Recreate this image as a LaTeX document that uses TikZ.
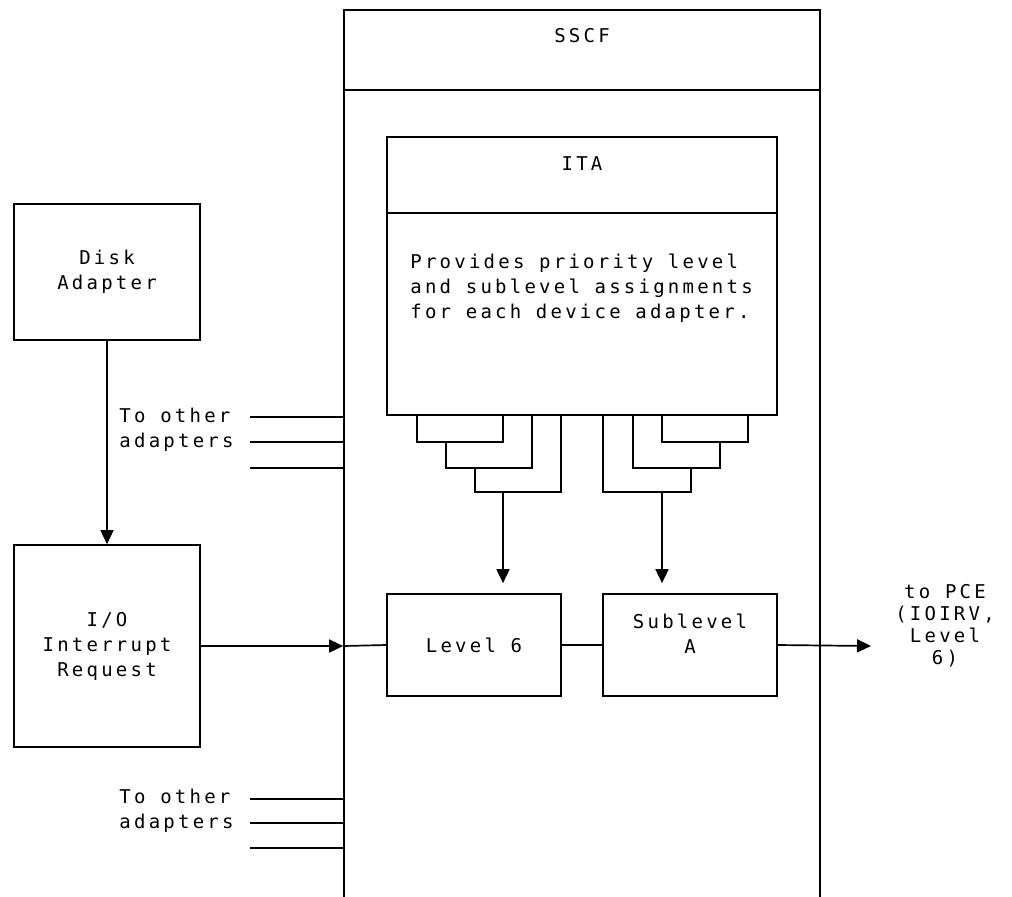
\documentclass[tikz,border=0pt]{standalone}
\usepackage{fontspec}
\usetikzlibrary{arrows.meta,positioning}
\newfontfamily\ibm{DejaVu Sans Mono}[LetterSpace=17]
\newcommand\diagfont{\ibm\fontsize{9.5}{12.5}\selectfont}

\begin{document}
\begin{tikzpicture}[x=0.5pt,y=-0.5pt,
  box/.style={draw,line width=0.85pt,inner sep=0pt,font=\diagfont,align=center},
  txt/.style={inner sep=0pt,font=\diagfont,align=center},
  wire/.style={line width=0.85pt},
  arr/.style={wire,-{Triangle[length=7pt,width=6.5pt]}}]
\useasboundingbox (0,0) rectangle (1012,896);
% SSCF frame, open at the bottom of the page
\node[box,minimum width=238pt,minimum height=445pt] (sscf) at (582,455) {};
\draw[wire] (sscf.west |- 0,90) -- (sscf.east |- 0,90);
\node[txt] (sscfLbl) at (582,36) {SSCF};
% ITA
\node[box,minimum width=195pt,minimum height=139pt] (ita) at (582,276) {};
\draw[wire] (ita.west |- 0,213) -- (ita.east |- 0,213);
\node[txt] (itaLbl) at (582,164) {ITA};
\node[txt,align=left,anchor=west] (itaTxt) at (410,288) {Provides priority level\\and sublevel assignments\\for each device adapter.};
% adapters
\node[box,minimum width=93pt,minimum height=68pt] (disk) at (107,272) {Disk\\Adapter};
\node[box,minimum width=93pt,minimum height=101pt] (io) at (107,646) {I/O\\Interrupt\\Request};
\node[box,minimum width=87pt,minimum height=51pt] (lv6) at (474,645) {Level 6};
\node[box,minimum width=87pt,minimum height=51pt] (sub) at (690,645) {};
\node[txt] (subLbl) at (690,634) {Sublevel\\A};
\node[txt,font={\ibm\fontsize{9.5}{11}\selectfont}] (pce) at (945,626) {to PCE\\(IOIRV,\\Level\\6)};
% priority level brackets
\draw[wire] (417,415) |- (503,442) -- (503,415);
\draw[wire] (446,442) |- (532,468) -- (532,415);
\draw[wire] (475,468) |- (561,492) -- (561,415);
\draw[wire] (748,415) |- (662,442) -- (662,415);
\draw[wire] (720,442) |- (633,468) -- (633,415);
\draw[wire] (691,468) |- (603,492) -- (603,415);
\coordinate (selL) at (503,492);
\coordinate (selR) at (662,492);
\draw[arr,shorten >=5pt] (selL) -- (lv6.north -| selL);
\draw[arr,shorten >=5pt] (selR) -- (sub.north -| selR);
% request path
\draw[arr] (disk) -- (io);
\coordinate (ioIn) at (sscf.west |- io.east);
\draw[arr] (io.east) -- (ioIn);
\draw[wire] (ioIn) -- (lv6.west);
\draw[wire] (lv6.east) -- (sub.west);
\coordinate (pceIn) at (871,646);
\draw[arr] (sub.east) -- (pceIn);
% other adapters
\node[txt,align=left,anchor=east] (otherTop) at (234,430) {To other\\adapters};
\node[txt,align=left,anchor=east] (otherBot) at (234,811) {To other\\adapters};
\foreach \y in {417,442,468} \draw[wire] (250,\y) -- (sscf.west |- 0,\y);
\foreach \y in {799,823,848} \draw[wire] (250,\y) -- (sscf.west |- 0,\y);
\end{tikzpicture}
\end{document}
